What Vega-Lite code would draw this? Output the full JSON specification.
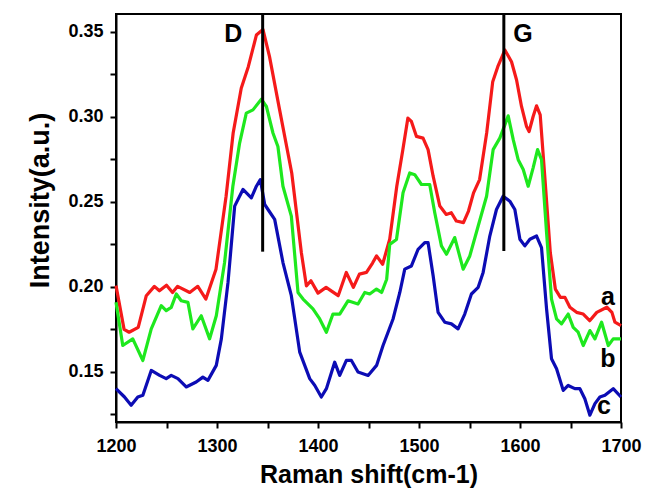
{
  "$schema": "https://vega.github.io/schema/vega-lite/v6.json",
  "width": 505,
  "height": 408,
  "autosize": {"type": "none"},
  "padding": {"left": 116, "top": 14, "right": 29, "bottom": 66},
  "background": "white",
  "config": {
    "view": {"stroke": "black", "strokeWidth": 2},
    "font": "Liberation Sans",
    "axis": {
      "domainColor": "black", "domainWidth": 2, "tickColor": "black", "tickWidth": 2, "tickSize": 6,
      "labelFont": "Liberation Sans", "labelFontWeight": "bold", "labelColor": "black", "labelFontSize": 18,
      "titleFont": "Liberation Sans", "titleFontWeight": "bold", "titleColor": "black", "grid": false
    }
  },
  "datasets": {
    "spectra": [
      {"s":"a","x":1200,"y":0.2007},{"s":"a","x":1208,"y":0.175},{"s":"a","x":1213,"y":0.1733},{"s":"a","x":1222,"y":0.1762},{"s":"a","x":1230,"y":0.1948},{"s":"a","x":1238,"y":0.2003},{"s":"a","x":1243,"y":0.1977},{"s":"a","x":1250,"y":0.201},{"s":"a","x":1256,"y":0.1967},{"s":"a","x":1261,"y":0.2003},{"s":"a","x":1273,"y":0.1967},{"s":"a","x":1281,"y":0.2003},{"s":"a","x":1289,"y":0.1928},{"s":"a","x":1299,"y":0.2104},{"s":"a","x":1309,"y":0.2533},{"s":"a","x":1316,"y":0.2905},{"s":"a","x":1324,"y":0.3168},{"s":"a","x":1331,"y":0.3295},{"s":"a","x":1339,"y":0.3481},{"s":"a","x":1345.5,"y":0.3514},{"s":"a","x":1352,"y":0.3354},{"s":"a","x":1362,"y":0.3041},{"s":"a","x":1374,"y":0.267},{"s":"a","x":1383.5,"y":0.2202},{"s":"a","x":1388.5,"y":0.2006},{"s":"a","x":1393,"y":0.2036},{"s":"a","x":1400,"y":0.1963},{"s":"a","x":1408,"y":0.1997},{"s":"a","x":1420,"y":0.1948},{"s":"a","x":1428,"y":0.2085},{"s":"a","x":1435,"y":0.1997},{"s":"a","x":1441,"y":0.2075},{"s":"a","x":1448,"y":0.2085},{"s":"a","x":1454,"y":0.214},{"s":"a","x":1458,"y":0.2182},{"s":"a","x":1464,"y":0.2133},{"s":"a","x":1471,"y":0.228},{"s":"a","x":1478,"y":0.2592},{"s":"a","x":1484,"y":0.2807},{"s":"a","x":1489,"y":0.2993},{"s":"a","x":1492.5,"y":0.2973},{"s":"a","x":1497.5,"y":0.2885},{"s":"a","x":1504,"y":0.2875},{"s":"a","x":1509,"y":0.2807},{"s":"a","x":1514,"y":0.2651},{"s":"a","x":1520.6,"y":0.2475},{"s":"a","x":1527,"y":0.2426},{"s":"a","x":1532,"y":0.2436},{"s":"a","x":1537,"y":0.2387},{"s":"a","x":1544,"y":0.2378},{"s":"a","x":1549,"y":0.2446},{"s":"a","x":1554,"y":0.2553},{"s":"a","x":1560,"y":0.2631},{"s":"a","x":1567,"y":0.2905},{"s":"a","x":1573,"y":0.3207},{"s":"a","x":1578,"y":0.3295},{"s":"a","x":1585,"y":0.3393},{"s":"a","x":1591.6,"y":0.3324},{"s":"a","x":1596.6,"y":0.3217},{"s":"a","x":1601.5,"y":0.3061},{"s":"a","x":1606.5,"y":0.2943},{"s":"a","x":1609,"y":0.2914},{"s":"a","x":1613,"y":0.3002},{"s":"a","x":1616.4,"y":0.3065},{"s":"a","x":1620,"y":0.3012},{"s":"a","x":1625,"y":0.2612},{"s":"a","x":1630,"y":0.2202},{"s":"a","x":1635,"y":0.1987},{"s":"a","x":1640,"y":0.1938},{"s":"a","x":1644.5,"y":0.1938},{"s":"a","x":1649.4,"y":0.188},{"s":"a","x":1656,"y":0.185},{"s":"a","x":1662.6,"y":0.184},{"s":"a","x":1669,"y":0.1801},{"s":"a","x":1676,"y":0.185},{"s":"a","x":1686,"y":0.188},{"s":"a","x":1691,"y":0.185},{"s":"a","x":1694,"y":0.1792},{"s":"a","x":1700,"y":0.1772},

      {"s":"b","x":1200,"y":0.1909},{"s":"b","x":1206.7,"y":0.1655},{"s":"b","x":1216.6,"y":0.1694},{"s":"b","x":1226.6,"y":0.1567},{"s":"b","x":1234.9,"y":0.1753},{"s":"b","x":1244.8,"y":0.1889},{"s":"b","x":1249.7,"y":0.186},{"s":"b","x":1254.7,"y":0.1879},{"s":"b","x":1259.7,"y":0.1958},{"s":"b","x":1264.6,"y":0.1918},{"s":"b","x":1271.2,"y":0.1909},{"s":"b","x":1276.1,"y":0.1753},{"s":"b","x":1284.4,"y":0.183},{"s":"b","x":1292.7,"y":0.1694},{"s":"b","x":1299.3,"y":0.183},{"s":"b","x":1307.5,"y":0.2143},{"s":"b","x":1315.7,"y":0.2592},{"s":"b","x":1322.4,"y":0.2846},{"s":"b","x":1329,"y":0.3022},{"s":"b","x":1335.6,"y":0.3041},{"s":"b","x":1343.9,"y":0.3104},{"s":"b","x":1348.9,"y":0.3061},{"s":"b","x":1355.4,"y":0.2905},{"s":"b","x":1360.3,"y":0.2826},{"s":"b","x":1365.3,"y":0.2592},{"s":"b","x":1373.6,"y":0.2416},{"s":"b","x":1380.2,"y":0.1967},{"s":"b","x":1385.2,"y":0.1928},{"s":"b","x":1395,"y":0.187},{"s":"b","x":1401.7,"y":0.1811},{"s":"b","x":1408.3,"y":0.1733},{"s":"b","x":1414.8,"y":0.184},{"s":"b","x":1421.5,"y":0.184},{"s":"b","x":1429.7,"y":0.1918},{"s":"b","x":1439.6,"y":0.1899},{"s":"b","x":1446.3,"y":0.1967},{"s":"b","x":1451.2,"y":0.1958},{"s":"b","x":1457.9,"y":0.1987},{"s":"b","x":1463,"y":0.1967},{"s":"b","x":1468,"y":0.2045},{"s":"b","x":1471,"y":0.225},{"s":"b","x":1477.7,"y":0.2279},{"s":"b","x":1484.2,"y":0.2553},{"s":"b","x":1490.8,"y":0.267},{"s":"b","x":1495.8,"y":0.266},{"s":"b","x":1502.4,"y":0.2602},{"s":"b","x":1510.6,"y":0.2602},{"s":"b","x":1515.6,"y":0.2436},{"s":"b","x":1522.2,"y":0.2241},{"s":"b","x":1527.2,"y":0.2192},{"s":"b","x":1535.4,"y":0.229},{"s":"b","x":1543.7,"y":0.2104},{"s":"b","x":1550.3,"y":0.2182},{"s":"b","x":1558.6,"y":0.2358},{"s":"b","x":1566.9,"y":0.2533},{"s":"b","x":1573.4,"y":0.2807},{"s":"b","x":1580,"y":0.2875},{"s":"b","x":1585,"y":0.2953},{"s":"b","x":1588.3,"y":0.3006},{"s":"b","x":1593.3,"y":0.2866},{"s":"b","x":1598.2,"y":0.2748},{"s":"b","x":1603.2,"y":0.269},{"s":"b","x":1608.1,"y":0.2592},{"s":"b","x":1613,"y":0.27},{"s":"b","x":1617.4,"y":0.2807},{"s":"b","x":1621.3,"y":0.2748},{"s":"b","x":1626.3,"y":0.2319},{"s":"b","x":1631.2,"y":0.1928},{"s":"b","x":1636.2,"y":0.1811},{"s":"b","x":1641.1,"y":0.1782},{"s":"b","x":1647.7,"y":0.184},{"s":"b","x":1652.7,"y":0.1762},{"s":"b","x":1657.6,"y":0.1733},{"s":"b","x":1662.6,"y":0.1655},{"s":"b","x":1669.2,"y":0.1743},{"s":"b","x":1674.2,"y":0.1694},{"s":"b","x":1680.8,"y":0.1792},{"s":"b","x":1687.4,"y":0.1655},{"s":"b","x":1692.3,"y":0.1694},{"s":"b","x":1700,"y":0.1694},

      {"s":"c","x":1200,"y":0.1401},{"s":"c","x":1208.4,"y":0.1352},{"s":"c","x":1215,"y":0.1303},{"s":"c","x":1221.6,"y":0.1352},{"s":"c","x":1226.6,"y":0.1362},{"s":"c","x":1234.9,"y":0.1508},{"s":"c","x":1243.2,"y":0.1479},{"s":"c","x":1249.7,"y":0.146},{"s":"c","x":1254.7,"y":0.1479},{"s":"c","x":1261.3,"y":0.146},{"s":"c","x":1269.5,"y":0.1411},{"s":"c","x":1279.4,"y":0.144},{"s":"c","x":1286,"y":0.1469},{"s":"c","x":1291,"y":0.145},{"s":"c","x":1299.3,"y":0.1538},{"s":"c","x":1304.3,"y":0.1694},{"s":"c","x":1310.9,"y":0.2026},{"s":"c","x":1317.5,"y":0.2475},{"s":"c","x":1325.7,"y":0.2573},{"s":"c","x":1334,"y":0.2524},{"s":"c","x":1339,"y":0.2592},{"s":"c","x":1342.9,"y":0.2631},{"s":"c","x":1347.2,"y":0.2485},{"s":"c","x":1350.5,"y":0.2455},{"s":"c","x":1357.1,"y":0.2397},{"s":"c","x":1365.3,"y":0.2143},{"s":"c","x":1373.6,"y":0.1948},{"s":"c","x":1381.9,"y":0.1616},{"s":"c","x":1391.8,"y":0.146},{"s":"c","x":1396.7,"y":0.1421},{"s":"c","x":1403.3,"y":0.1352},{"s":"c","x":1408.3,"y":0.1401},{"s":"c","x":1416.5,"y":0.1557},{"s":"c","x":1421.5,"y":0.1479},{"s":"c","x":1428.1,"y":0.1567},{"s":"c","x":1433.1,"y":0.1567},{"s":"c","x":1439.6,"y":0.1499},{"s":"c","x":1449.6,"y":0.1479},{"s":"c","x":1458,"y":0.1538},{"s":"c","x":1464.4,"y":0.1655},{"s":"c","x":1474.3,"y":0.1811},{"s":"c","x":1481,"y":0.1967},{"s":"c","x":1485.9,"y":0.2104},{"s":"c","x":1492.5,"y":0.2123},{"s":"c","x":1499.1,"y":0.2221},{"s":"c","x":1505.7,"y":0.226},{"s":"c","x":1509,"y":0.226},{"s":"c","x":1514,"y":0.2065},{"s":"c","x":1518.9,"y":0.185},{"s":"c","x":1525.5,"y":0.1792},{"s":"c","x":1532.1,"y":0.1782},{"s":"c","x":1538.7,"y":0.1753},{"s":"c","x":1545.3,"y":0.184},{"s":"c","x":1551.9,"y":0.1958},{"s":"c","x":1558.6,"y":0.1997},{"s":"c","x":1563.5,"y":0.2085},{"s":"c","x":1570.1,"y":0.2299},{"s":"c","x":1576.7,"y":0.2455},{"s":"c","x":1583.3,"y":0.2533},{"s":"c","x":1589.9,"y":0.2504},{"s":"c","x":1594.9,"y":0.2455},{"s":"c","x":1599.9,"y":0.228},{"s":"c","x":1604.8,"y":0.2241},{"s":"c","x":1609.8,"y":0.228},{"s":"c","x":1616.4,"y":0.2299},{"s":"c","x":1621.3,"y":0.2231},{"s":"c","x":1626.3,"y":0.187},{"s":"c","x":1631.2,"y":0.1577},{"s":"c","x":1636.2,"y":0.1518},{"s":"c","x":1642.8,"y":0.1391},{"s":"c","x":1647.7,"y":0.142},{"s":"c","x":1654.3,"y":0.1401},{"s":"c","x":1659.3,"y":0.1401},{"s":"c","x":1664.2,"y":0.1342},{"s":"c","x":1669.2,"y":0.1245},{"s":"c","x":1674.2,"y":0.1313},{"s":"c","x":1679.1,"y":0.1352},{"s":"c","x":1684.1,"y":0.1362},{"s":"c","x":1692.3,"y":0.1401},{"s":"c","x":1700,"y":0.1352}
    ],
    "peaks": [
      {"name":"D","x":1345.2,"y":0.2207,"y2":0.3605},
      {"name":"G","x":1584,"y":0.2211,"y2":0.3605}
    ],
    "labels": [
      {"t":"D","x":1316,"y":0.3487},
      {"t":"G","x":1603,"y":0.3487},
      {"t":"a","x":1687,"y":0.1943},
      {"t":"b","x":1687,"y":0.1577},
      {"t":"c","x":1683,"y":0.1301}
    ]
  },
  "layer": [
    {
      "data": {"name": "spectra"},
      "mark": {"type": "line", "strokeWidth": 3.2, "strokeJoin": "round"},
      "encoding": {
        "x": {"field": "x", "type": "quantitative",
              "scale": {"domain": [1200, 1700], "nice": false},
              "axis": {"values": [1200,1250,1300,1350,1400,1450,1500,1550,1600,1650,1700],
                       "format": "d",
                       "labelExpr": "datum.value % 100 === 0 ? datum.label : ''",
                       "labelPadding": 9, "title": "Raman shift(cm-1)", "titleFontSize": 25, "titlePadding": 7, "labelFlush": false, "labelOverlap": false}},
        "y": {"field": "y", "type": "quantitative",
              "scale": {"domain": [0.1205, 0.3605], "nice": false, "zero": false},
              "axis": {"values": [0.125,0.15,0.175,0.2,0.225,0.25,0.275,0.3,0.325,0.35],
                       "labelExpr": "round(datum.value*1000) % 50 === 0 ? format(datum.value, '.2f') : ''",
                       "labelPadding": 7, "title": "Intensity(a.u.)", "titleFontSize": 27, "titlePadding": 13, "titleY": 186, "labelOverlap": false}},
        "color": {"field": "s", "type": "nominal",
                  "scale": {"domain": ["a","b","c"], "range": ["#f51a1a", "#1ee81e", "#0c0cb4"]},
                  "legend": null},
        "order": {"field": "x", "type": "quantitative"}
      }
    },
    {
      "data": {"name": "peaks"},
      "mark": {"type": "rule", "color": "black", "strokeWidth": 3},
      "encoding": {
        "x": {"field": "x", "type": "quantitative"},
        "y": {"field": "y", "type": "quantitative"},
        "y2": {"field": "y2"}
      }
    },
    {
      "data": {"name": "labels"},
      "mark": {"type": "text", "font": "Liberation Sans", "fontWeight": "bold", "fontSize": 25, "color": "black", "align": "center", "baseline": "middle"},
      "encoding": {
        "x": {"field": "x", "type": "quantitative"},
        "y": {"field": "y", "type": "quantitative"},
        "text": {"field": "t"}
      }
    }
  ]
}
